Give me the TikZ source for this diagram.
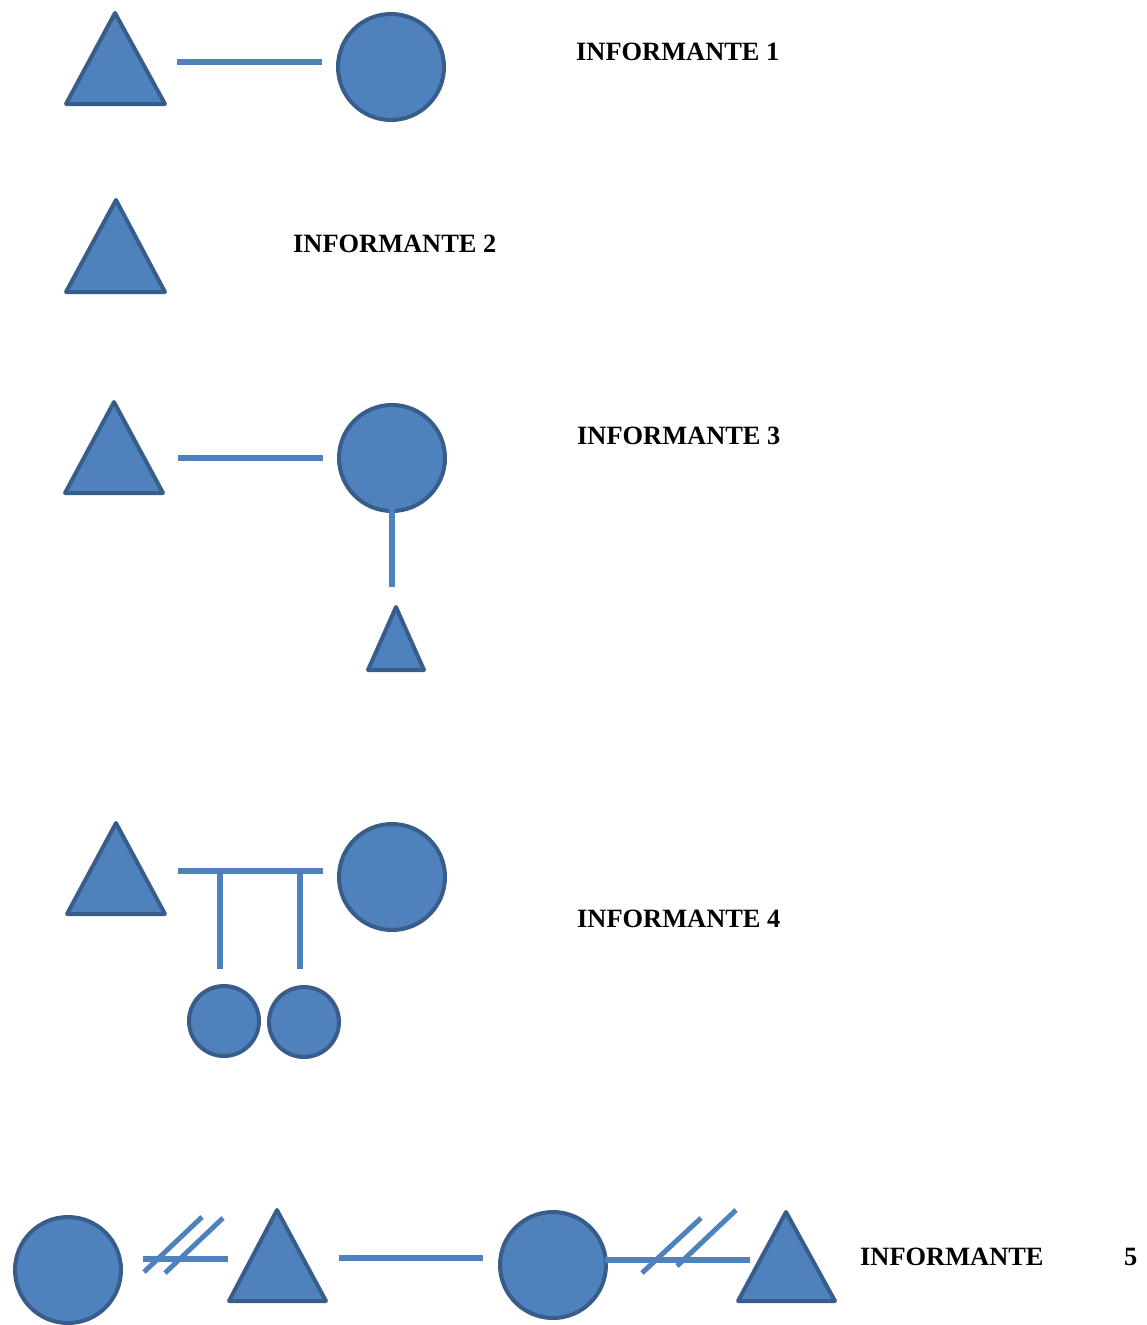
\documentclass[tikz,border=0pt]{standalone}
\usepackage{fontspec}
\setmainfont{Liberation Serif}
\definecolor{fillblue}{HTML}{4F81BD}
\definecolor{edgeblue}{HTML}{385D8A}
\begin{document}
\begin{tikzpicture}[x=1pt,y=-1pt,
  person/.style={circle,draw=edgeblue,fill=fillblue,line width=4pt,inner sep=0pt,outer sep=0pt},
  bigc/.style={person,minimum size=106pt},
  smallc/.style={person,minimum size=70pt},
  tri/.style={draw=edgeblue,fill=fillblue,line width=4pt,line join=round},
  link/.style={draw=fillblue,line width=6pt},
  slash/.style={draw=fillblue,line width=5pt},
  lbl/.style={font=\bfseries\fontsize{26.4}{30}\selectfont,inner sep=0pt,anchor=west}]
\useasboundingbox (0,0) rectangle (1146,1325);
% Row 1
\draw[tri] (115,13) -- (165,104) -- (66,104) -- cycle;
\node[bigc] (c1) at (391,67) {};
\coordinate (l1a) at (177,62); \coordinate (l1b) at (322,62);
\draw[link] (l1a) -- (l1b);
\node[lbl] (t1) at (576,52) {INFORMANTE 1};
% Row 2
\draw[tri] (116,200) -- (165,292) -- (66,292) -- cycle;
\node[lbl] (t2) at (293,244) {INFORMANTE 2};
% Row 3
\draw[tri] (114,402) -- (163,493) -- (65,493) -- cycle;
\node[bigc] (c3) at (392,458) {};
\coordinate (l3a) at (178,458); \coordinate (l3b) at (323,458);
\draw[link] (l3a) -- (l3b);
\coordinate (v3a) at (392,489); \coordinate (v3b) at (392,587);
\draw[link] (v3a) -- (v3b);
\draw[tri] (396,607) -- (424,670) -- (368,670) -- cycle;
\node[lbl] (t3) at (577,436) {INFORMANTE 3};
% Row 4
\draw[tri] (116,823) -- (165,914) -- (67,914) -- cycle;
\node[bigc] (c4) at (392,877) {};
\coordinate (l4a) at (178,871); \coordinate (l4b) at (323,871);
\coordinate (d4a) at (220,871); \coordinate (d4ae) at (220,969);
\coordinate (d4b) at (300,871); \coordinate (d4be) at (300,969);
\node[smallc] (k1) at (224,1021) {};
\node[smallc] (k2) at (304,1022) {};
\draw[link] (d4a) -- (d4ae);
\draw[link] (d4b) -- (d4be);
\draw[link] (l4a) -- (l4b);
\node[lbl] (t4) at (577,919) {INFORMANTE 4};
% Row 5
\node[bigc] (c5a) at (68,1270) {};
\coordinate (l5a) at (143,1259); \coordinate (l5b) at (228,1259);
\draw[link] (l5a) -- (l5b);
\coordinate (s1a) at (144,1272); \coordinate (s1b) at (202,1217);
\coordinate (s2a) at (165,1273); \coordinate (s2b) at (223,1218);
\draw[slash] (s1a) -- (s1b);
\draw[slash] (s2a) -- (s2b);
\draw[tri] (277,1210) -- (326,1301) -- (229,1301) -- cycle;
\coordinate (l5c) at (339,1258); \coordinate (l5d) at (483,1258);
\draw[link] (l5c) -- (l5d);
\node[bigc] (c5b) at (553,1265) {};
\coordinate (l5e) at (605,1260); \coordinate (l5f) at (750,1260);
\draw[link] (l5e) -- (l5f);
\coordinate (s3a) at (642,1273); \coordinate (s3b) at (701,1218);
\coordinate (s4a) at (677,1266); \coordinate (s4b) at (736,1210);
\draw[slash] (s3a) -- (s3b);
\draw[slash] (s4a) -- (s4b);
\draw[tri] (786,1212) -- (835,1301) -- (738,1301) -- cycle;
\node[lbl] (t5) at (860,1257) {INFORMANTE};
\node[lbl] (t5n) at (1124,1257) {5};
\end{tikzpicture}
\end{document}
